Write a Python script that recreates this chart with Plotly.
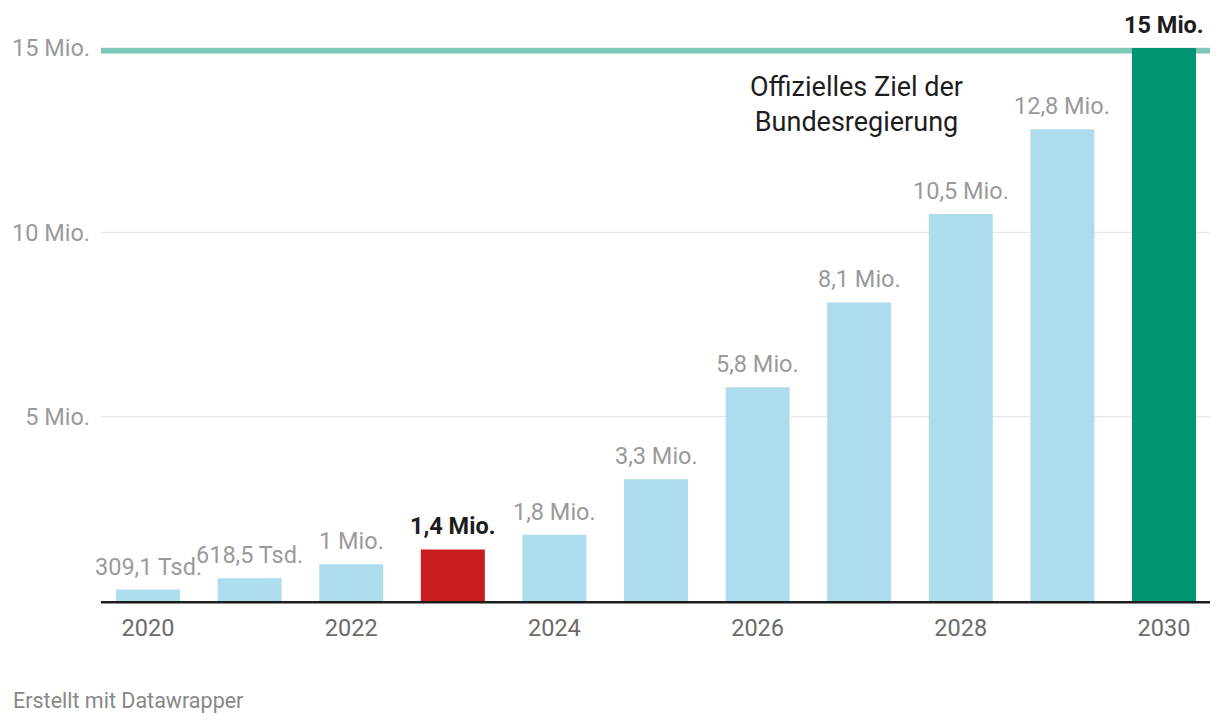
import plotly.graph_objects as go

years = [2020, 2021, 2022, 2023, 2024, 2025, 2026, 2027, 2028, 2029, 2030]
values = [0.3091, 0.6185, 1.0, 1.4, 1.8, 3.3, 5.8, 8.1, 10.5, 12.8, 15.0]
labels = ["309,1 Tsd.", "618,5 Tsd.", "1 Mio.", "1,4 Mio.", "1,8 Mio.", "3,3 Mio.",
          "5,8 Mio.", "8,1 Mio.", "10,5 Mio.", "12,8 Mio.", "15 Mio."]
highlight = [2023, 2030]
target_value = 15
target_text = "Offizielles Ziel der<br>Bundesregierung"
ytick_vals = [5, 10, 15]
ytick_text = ["5 Mio.", "10 Mio.", "15 Mio."]
grid_vals = [5, 10, 15]
xtick_vals = [2020, 2022, 2024, 2026, 2028, 2030]

FONT = "Roboto"
LIGHT = "#addcec"
colors = []
for y in years:
    if y == 2023:
        colors.append("#c71e1d")
    elif y == 2030:
        colors.append("#009473")
    else:
        colors.append(LIGHT)

fig = go.Figure()
fig.add_trace(go.Bar(x=years, y=values, marker=dict(color=colors, line=dict(width=0)),
                     hoverinfo="skip", cliponaxis=False))

for g in grid_vals:
    fig.add_shape(type="line", xref="paper", yref="y", x0=0, x1=1, y0=g, y1=g,
                  line=dict(color="#e3e3e3", width=1), layer="below")
# target line (drawn just below the target value, behind bars)
fig.add_shape(type="rect", xref="paper", yref="y", x0=0, x1=1,
              ysizemode="pixel", yanchor=target_value, y0=0, y1=-5.5,
              fillcolor="#7dc8b8", line=dict(width=0), layer="below")
# baseline (paper-referenced so it is not clipped)
fig.add_shape(type="rect", xref="paper", yref="paper", x0=0, x1=1,
              ysizemode="pixel", yanchor=0, y0=0, y1=-2.5,
              fillcolor="#1d1d1d", line=dict(width=0), layer="above")

for yr, v, lab in zip(years, values, labels):
    bold = yr in highlight
    fig.add_annotation(x=yr, y=v, text=f"<b>{lab}</b>" if bold else lab, showarrow=False,
                       yanchor="bottom", yshift=7,
                       font=dict(family=FONT, size=23.5, color="#1d1d1d" if bold else "#9a9a9a"))

fig.add_annotation(x=2026.97, y=13.48, text=target_text, showarrow=False, xanchor="center",
                   yanchor="middle", align="center",
                   font=dict(family=FONT, size=27, color="#1d1d1d"))

fig.add_annotation(xref="paper", yref="paper", x=-0.0812, y=-0.176, xanchor="left", yanchor="middle",
                   text="Erstellt mit Datawrapper", showarrow=False,
                   font=dict(family=FONT, size=21.5, color="#888888"))

fig.update_layout(
    width=1212, height=718,
    margin=dict(l=93, r=10, t=29, b=125, autoexpand=False),
    plot_bgcolor="white", paper_bgcolor="white",
    bargap=0.37, showlegend=False,
    font=dict(family=FONT),
    xaxis=dict(range=[2019.537, 2030.453], tickmode="array", tickvals=xtick_vals,
               ticktext=[str(v) for v in xtick_vals], automargin=False,
               showgrid=False, zeroline=False, showline=False, ticks="", ticklabelstandoff=10,
               tickfont=dict(family=FONT, size=23.5, color="#6b6b6b")),
    yaxis=dict(range=[0, 15.3], tickmode="array", tickvals=ytick_vals, ticktext=ytick_text,
               showgrid=False, zeroline=False, showline=False, automargin=False,
               ticks="", ticklabelstandoff=10,
               tickfont=dict(family=FONT, size=23.5, color="#9a9a9a")),
)

fig.write_html("out.html")
